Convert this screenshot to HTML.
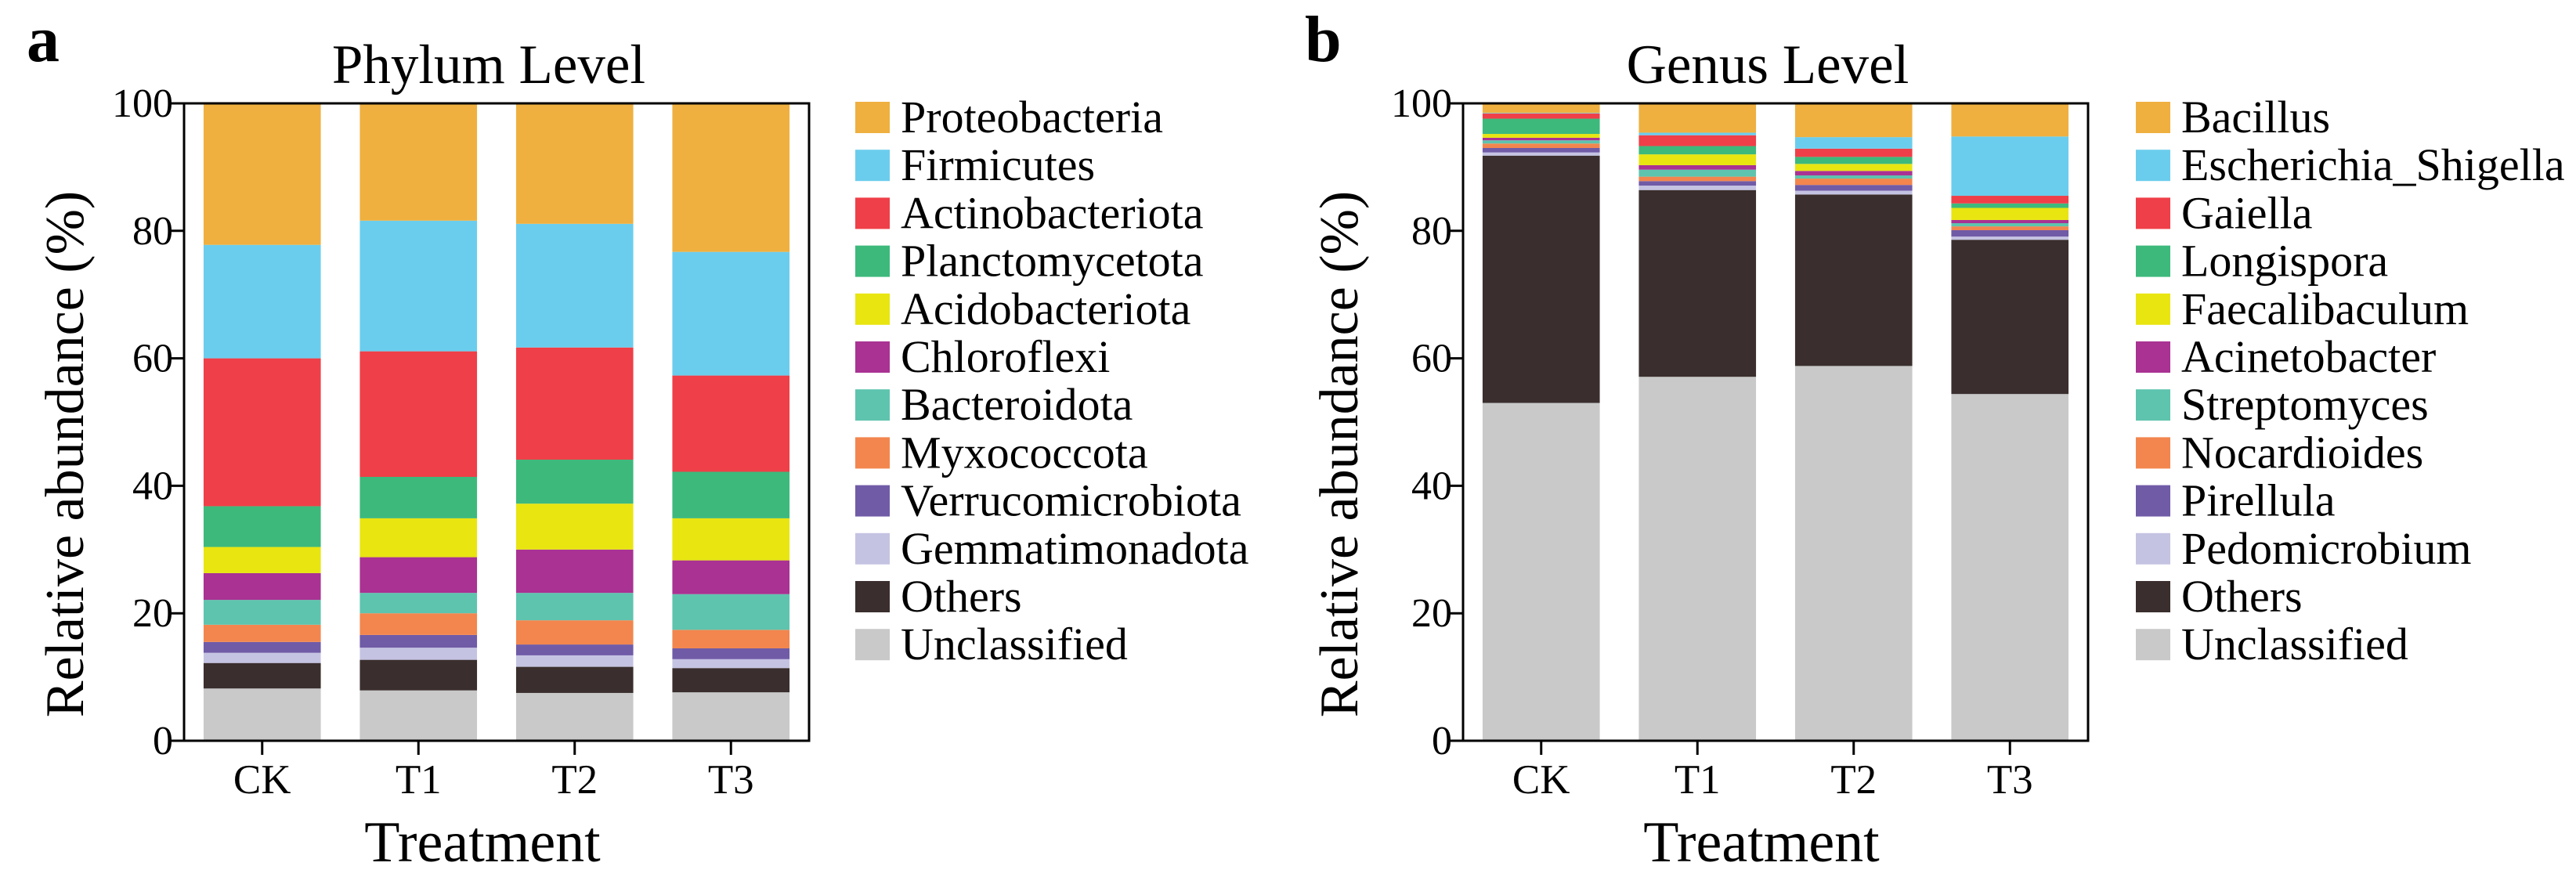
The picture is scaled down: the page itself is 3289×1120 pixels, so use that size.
<!DOCTYPE html>
<html><head><meta charset="utf-8"><style>
html,body{margin:0;padding:0;background:#fff;}
svg{display:block;font-family:"Liberation Serif","Times New Roman",serif;}
</style></head><body>
<svg id="fig" width="3289" height="1120" viewBox="0 0 3289 1120" xmlns="http://www.w3.org/2000/svg"></svg>
<script>
const treatments = ["CK","T1","T2","T3"];
const yTicks = [0,20,40,60,80,100];
const phylumNames = ["Proteobacteria","Firmicutes","Actinobacteriota","Planctomycetota","Acidobacteriota","Chloroflexi","Bacteroidota","Myxococcota","Verrucomicrobiota","Gemmatimonadota","Others","Unclassified"];
const phylumCK = [22.2,17.8,23.2,6.4,4.1,4.2,3.9,2.7,1.7,1.6,4.0,8.2];
const phylumT1 = [18.4,20.5,19.7,6.5,6.1,5.6,3.2,3.4,2.0,1.9,4.8,7.9];
const phylumT2 = [18.9,19.4,17.6,6.9,7.2,6.8,4.3,3.8,1.7,1.8,4.1,7.5];
const phylumT3 = [23.3,19.4,15.1,7.3,6.6,5.3,5.6,2.9,1.7,1.4,3.8,7.6];
const genusNames = ["Bacillus","Escherichia_Shigella","Gaiella","Longispora","Faecalibaculum","Acinetobacter","Streptomyces","Nocardioides","Pirellula","Pedomicrobium","Others","Unclassified"];
const genusCK = [1.5,0.1,0.8,2.4,0.6,0.4,0.5,0.7,0.7,0.5,38.8,53.0];
const genusT1 = [4.6,0.4,1.7,1.3,1.7,0.7,1.1,0.7,0.7,0.7,29.3,57.1];
const genusT2 = [5.4,1.8,1.3,1.1,1.1,0.7,0.5,1.0,0.9,0.6,26.9,58.8];
const genusT3 = [5.1,9.3,1.2,0.7,1.9,0.5,0.5,0.6,1.0,0.5,24.2,54.4];
const colors = ["#EFB040","#6BCDED","#EF3F48","#3DB97C","#E8E511","#A93293","#5EC4AE","#F2864E","#705BA7","#C5C3E2","#3A2F2E","#C8C9C8"];

const NS="http://www.w3.org/2000/svg";
const svg=document.getElementById('fig');
function mk(tag,attrs,parent){const e=document.createElementNS(NS,tag);for(const k in attrs)e.setAttribute(k,attrs[k]);(parent||svg).appendChild(e);return e;}

function panel(cfg){
  const g=mk('g',{});
  
  
  const L=cfg.left,R=cfg.left+798,T=132,B=946;
  const yS=v=>B-(v/100)*(B-T);
  const band=(R-L)/treatments.length;
  const xS=i=>L+band*i+band*0.125;
  const bw=band*0.75;
  cfg.series.forEach((vals,i)=>{
    let cum=0;
    for(let k=vals.length-1;k>=0;k--){
      const y0=yS(cum),y1=yS(Math.min(100,cum+vals[k]));
      cum+=vals[k];
      const r=mk('rect',{x:xS(i),y:y1,width:bw,height:Math.max(0,y0-y1),fill:colors[k]},g);
      
      
    }
  });
  const box=mk('rect',{x:L,y:T,width:R-L,height:B-T,fill:'none',stroke:'#000','stroke-width':3},g);
  
  
  yTicks.forEach(t=>{
    const y=yS(t);
    const tk=mk('line',{x1:L-18,x2:L,y1:y,y2:y,stroke:'#000','stroke-width':3},g);
    
    
    const tx=mk('text',{x:L-14,y:y+17,'font-size':52,'text-anchor':'end'},g);
    tx.textContent=t;
    
    
  });
  treatments.forEach((c,i)=>{
    const x=xS(i)+bw/2;
    const tk=mk('line',{x1:x,x2:x,y1:B,y2:B+18,stroke:'#000','stroke-width':3},g);
    
    
    const tx=mk('text',{x:x,y:1013,'font-size':53,'text-anchor':'middle'},g);
    tx.textContent=c;
    
    
  });
  const title=mk('text',{x:(L+R)/2-10,y:106,'font-size':71,'text-anchor':'middle'},g);
  title.textContent=cfg.title;
  
  
  const xt=mk('text',{x:(L+R)/2-18,y:1100,'font-size':74,'text-anchor':'middle'},g);
  xt.textContent='Treatment';
  
  
  const yt=mk('text',{x:0,y:0,'font-size':70,'text-anchor':'middle',transform:'translate('+cfg.ytx+',580) rotate(-90)'},g);
  yt.textContent='Relative abundance (%)';
  
  
  const pl=mk('text',{x:cfg.lx,y:78,'font-size':84,'font-weight':'bold'},g);
  pl.textContent=cfg.letter;
  
  
  cfg.names.forEach((n,k)=>{
    const y=130+k*61.2;
    const lg=mk('g',{},g);
    
    
    mk('rect',{x:cfg.sx,y:y,width:44,height:40,fill:colors[k]},lg);
    const t=mk('text',{x:cfg.sx+58,y:y+39,'font-size':58},lg);
    t.textContent=n;
  });
}
panel({id:'phylum',left:235,title:'Phylum Level',letter:'a',lx:34,ytx:106,names:phylumNames,series:[phylumCK,phylumT1,phylumT2,phylumT3],sx:1092});
panel({id:'genus',left:1868,title:'Genus Level',letter:'b',lx:1666,ytx:1733,names:genusNames,series:[genusCK,genusT1,genusT2,genusT3],sx:2727});
</script>
</body></html>
